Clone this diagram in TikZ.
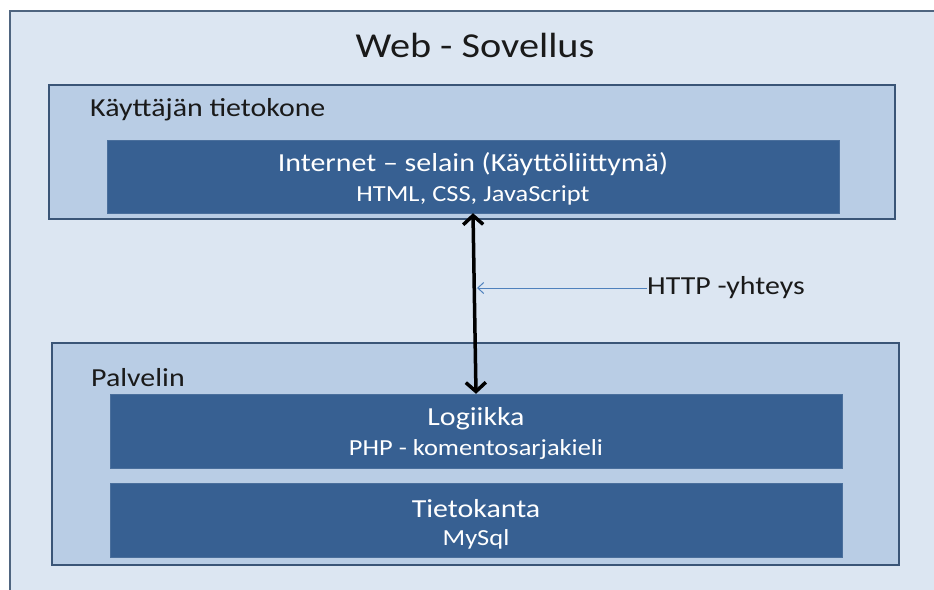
\documentclass[tikz,border=0pt]{standalone}
\usepackage{fontspec}
\setmainfont{Carlito}[FakeStretch=1.15]
\usetikzlibrary{arrows.meta}
\definecolor{bgfill}{HTML}{DCE6F2}
\definecolor{bgline}{HTML}{4F6580}
\definecolor{midfill}{HTML}{B9CDE5}
\definecolor{midline}{HTML}{3A5577}
\definecolor{darkfill}{HTML}{376092}
\definecolor{darkline}{HTML}{4A6F9C}
\definecolor{httpblue}{HTML}{4F81BD}
\definecolor{txt}{HTML}{1A1A1A}
\tikzset{
  x=1pt, y=-1pt,
  groupbox/.style={draw=midline, line width=2.2pt, fill=midfill},
  darkbox/.style={draw=darkline, line width=0.6pt, fill=darkfill},
  boxtitle/.style={anchor=west, text=txt, font=\fontsize{26}{30}\selectfont, inner sep=0pt},
  bigline/.style={text=white, font=\fontsize{26}{30}\selectfont, inner sep=0pt},
  smallline/.style={text=white, font=\fontsize{23}{27}\selectfont, inner sep=0pt},
}
\begin{document}
\begin{tikzpicture}
\useasboundingbox (0,0) rectangle (934,589);
\fill[white] (0,0) rectangle (934,589);
\begin{scope}
\clip (0,0) rectangle (934,589);
\draw[draw=bgline, line width=2pt, fill=bgfill] (10,11) rectangle (950,600);
\end{scope}
\node[text=txt, font=\fontsize{35}{40}\selectfont, inner sep=0pt] (title) at (475,45) {Web - Sovellus};

% upper group
\draw[groupbox] (49,85) rectangle (895,219);
\node[boxtitle] (kt) at (90,110) {Käyttäjän tietokone};
\draw[darkbox] (107,140) rectangle (839,213);
\node[inner sep=0pt, minimum width=732pt, minimum height=73pt] (inet) at (473,176.5) {};
\node[bigline] (inet1) at (473,164) {Internet – selain (Käyttöliittymä)};
\node[smallline] (inet2) at (473,195) {HTML, CSS, JavaScript};

% lower group
\draw[groupbox] (52,343) rectangle (899,565);
\node[boxtitle] (pv) at (91,378) {Palvelin};
\draw[darkbox] (110,394) rectangle (842,468);
\node[inner sep=0pt, minimum width=732pt, minimum height=74pt] (logic) at (476,431) {};
\node[bigline] (logic1) at (476,419) {Logiikka};
\node[smallline] (logic2) at (476,449) {PHP - komentosarjakieli};
\draw[darkbox] (110,483) rectangle (842,557);
\node[inner sep=0pt, minimum width=732pt, minimum height=74pt] (db) at (476,520) {};
\node[bigline] (db1) at (476,509) {Tietokanta};
\node[smallline] (db2) at (476,539) {MySql};

% connection
\draw[line width=3.5pt, black, {Straight Barb[length=9pt,width=20pt]}-{Straight Barb[length=9pt,width=20pt]}] (inet.south) -- (logic.north);
\node[anchor=west, text=txt, font=\fontsize{26}{30}\selectfont, inner sep=0pt] (http) at (647,288) {HTTP -yhteys};
\coordinate (hit) at (477,288);
\draw[httpblue, line width=1pt, -{Straight Barb[length=6pt,width=11pt]}] (http.west) -- (hit);
\end{tikzpicture}
\end{document}
